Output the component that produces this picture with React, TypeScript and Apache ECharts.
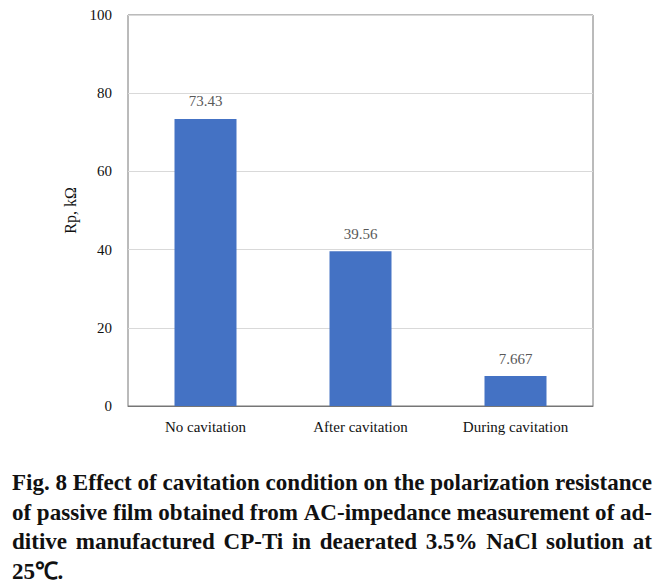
import React, { useEffect, useRef } from "react";
import * as echarts from "echarts";

const categories = ["No cavitation", "After cavitation", "During cavitation"];
const rpValues = [73.43, 39.56, 7.667];
const valueLabels = ["73.43", "39.56", "7.667"];
const captionLines = [
  "Fig. 8 Effect of cavitation condition on the polarization resistance",
  "of passive film obtained from AC-impedance measurement of ad-",
  "ditive manufactured CP-Ti in deaerated 3.5% NaCl solution at",
  "25\u2103.",
];

const SERIF = "Liberation Serif";

function buildCaption(): any[] {
  const font = `bold 24px ${SERIF}`;
  const canvas = document.createElement("canvas");
  const ctx = canvas.getContext("2d")!;
  ctx.font = font;
  const left = 12;
  const width = 640;
  const s = width / ctx.measureText(captionLines[0]).width;
  const baselines = [494, 523.5, 553, 582.5];
  const els: any[] = [];
  captionLines.forEach((line, i) => {
    const words = line.split(" ");
    const widths = words.map((w) => ctx.measureText(w).width * s);
    const justify = i < captionLines.length - 1;
    const total = widths.reduce((a, b) => a + b, 0);
    const gap = justify && words.length > 1
      ? (width - total) / (words.length - 1)
      : ctx.measureText(" ").width * s;
    let x = left;
    words.forEach((w, j) => {
      els.push({
        type: "text",
        x,
        y: baselines[i],
        scaleX: s,
        style: {
          text: w,
          fontFamily: SERIF,
          fontSize: 24,
          fontWeight: "bold",
          fill: "#111",
          textAlign: "left",
          textVerticalAlign: "bottom",
        },
      });
      x += widths[j] + gap;
    });
  });
  return els;
}

export default function App() {
  const ref = useRef<HTMLDivElement>(null);
  useEffect(() => {
    if (!ref.current) return;
    const chart = echarts.init(ref.current, null, { renderer: "svg" });
    chart.setOption({
      animation: false,
      backgroundColor: "#fff",
      textStyle: { fontFamily: SERIF },
      grid: {
        left: 128,
        top: 15,
        width: 465,
        height: 391,
        show: true,
        borderColor: "#767676",
        borderWidth: 1,
      },
      xAxis: {
        type: "category",
        data: categories,
        axisLine: { lineStyle: { color: "#767676", width: 1 } },
        axisTick: { show: false },
        axisLabel: {
          color: "#111",
          fontFamily: SERIF,
          fontSize: 15,
          margin: 13,
        },
      },
      yAxis: {
        type: "value",
        min: 0,
        max: 100,
        interval: 20,
        name: "Rp, k\u03a9",
        nameLocation: "middle",
        nameGap: 50,
        nameTextStyle: { color: "#111", fontFamily: SERIF, fontSize: 16 },
        axisLine: { show: false },
        axisTick: { show: false },
        splitLine: { lineStyle: { color: "#d9d9d9", width: 1 } },
        axisLabel: {
          color: "#111",
          fontFamily: SERIF,
          fontSize: 15,
          margin: 16,
        },
      },
      series: [
        {
          type: "bar",
          data: rpValues,
          barWidth: "40%",
          itemStyle: { color: "#4472c4" },
          label: {
            show: true,
            position: "top",
            distance: 10,
            color: "#595959",
            fontFamily: SERIF,
            fontSize: 15,
            formatter: (p: any) => valueLabels[p.dataIndex],
          },
        },
      ],
      graphic: buildCaption(),
    });
    return () => chart.dispose();
  }, []);
  return (
    <div
      ref={ref}
      style={{ position: "fixed", left: 0, top: 0, width: 672, height: 585 }}
    />
  );
}
